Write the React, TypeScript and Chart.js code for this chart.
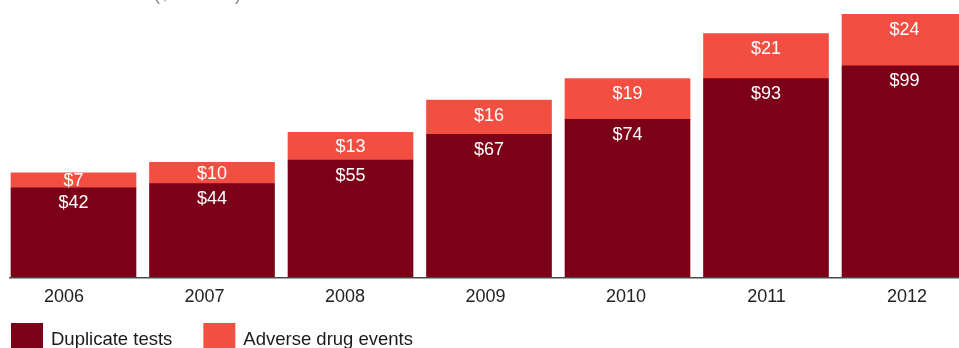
import React, { useEffect, useRef } from "react";
import { Chart, registerables } from "chart.js";

Chart.register(...registerables);

// ---- data ----
const years = ["2006", "2007", "2008", "2009", "2010", "2011", "2012"];
const duplicateTests = [42, 44, 55, 67, 74, 93, 99];
const adverseDrugEvents = [7, 10, 13, 16, 19, 21, 24];
const seriesNames = ["Duplicate tests", "Adverse drug events"];
const seriesValues = [duplicateTests, adverseDrugEvents];
const seriesColors = ["#7d0019", "#f24f42"];
const chartTitle = "Total annual cost ($ millions)";

const FONT = "'Liberation Sans', Arial, Helvetica, sans-serif";

const valueLabels = {
  id: "valueLabels",
  afterDatasetsDraw(chart: any) {
    const ctx = chart.ctx;
    ctx.save();
    ctx.font = `18px ${FONT}`;
    ctx.fillStyle = "#ffffff";
    ctx.textAlign = "center";
    ctx.textBaseline = "middle";
    seriesValues.forEach((vals, di) => {
      const meta = chart.getDatasetMeta(di);
      meta.data.forEach((bar: any, i: number) => {
        const { x, y, base } = bar.getProps(["x", "y", "base"], true);
        const h = Math.abs(base - y);
        const top = Math.min(y, base);
        const off = Math.min(15.5, h / 2 + 0.8);
        ctx.fillText("$" + vals[i], x, top + off);
      });
    });
    ctx.restore();
  },
};

const customLegend = {
  id: "customLegend",
  afterDraw(chart: any) {
    const ctx = chart.ctx;
    ctx.save();
    ctx.font = `18.5px ${FONT}`;
    ctx.textAlign = "left";
    ctx.textBaseline = "alphabetic";
    let x = 11;
    chart.data.datasets.forEach((ds: any) => {
      ctx.fillStyle = ds.backgroundColor;
      ctx.fillRect(x, 323, 32, 30);
      ctx.fillStyle = "#1a1a1a";
      const tx = x + 40;
      ctx.fillText(ds.label, tx, 344.5);
      x = tx + ctx.measureText(ds.label).width + 31;
    });
    ctx.restore();
  },
};

const topTitle = {
  id: "topTitle",
  afterDraw(chart: any) {
    const ctx = chart.ctx;
    ctx.save();
    ctx.font = `18px ${FONT}`;
    ctx.fillStyle = "#888888";
    ctx.textAlign = "left";
    ctx.textBaseline = "alphabetic";
    ctx.fillText(chartTitle, 14, -0.5);
    ctx.restore();
  },
};

export default function App() {
  const canvasRef = useRef<HTMLCanvasElement | null>(null);

  useEffect(() => {
    if (!canvasRef.current) return;
    const chart = new Chart(canvasRef.current, {
      type: "bar",
      data: {
        datasets: seriesValues.map((vals, di) => ({
          label: seriesNames[di],
          data: vals.map((v, i) => ({ x: i, y: v })),
          backgroundColor: seriesColors[di],
          borderWidth: 0,
          barThickness: 125,
          stack: "a",
          xAxisID: "x",
          yAxisID: "y",
        })),
      },
      options: {
        responsive: false,
        animation: false,
        devicePixelRatio: 1,
        layout: { padding: { left: 10, right: 10, top: 10, bottom: 32.4 } },
        plugins: {
          legend: { display: false },
          tooltip: { enabled: false },
          title: { display: false },
        },
        scales: {
          x: {
            type: "linear",
            display: false,
            offset: false,
            min: -0.45848,
            max: 6.61733,
          },
          x2: {
            type: "linear",
            position: "bottom",
            offset: false,
            min: -0.38434,
            max: 6.59075,
            grid: { display: false, drawTicks: false },
            border: { display: true, color: "#4a4a4a", width: 1.5, z: 1 },
            afterFit: (scale: any) => {
              scale.paddingLeft = 0;
              scale.paddingRight = 0;
            },
            ticks: {
              stepSize: 1,
              includeBounds: false,
              autoSkip: false,
              maxRotation: 0,
              padding: 8,
              color: "#222222",
              font: { family: FONT, size: 18 },
              callback: (v: any) => years[v as number] ?? "",
            },
          },
          y: {
            display: false,
            stacked: true,
            min: 0,
            max: 125,
          },
        },
      } as any,
      plugins: [valueLabels, customLegend, topTitle],
    });
    return () => chart.destroy();
  }, []);

  return (
    <div
      style={{
        position: "fixed",
        left: 0,
        top: 0,
        width: 959,
        height: 348,
        overflow: "hidden",
        background: "#ffffff",
      }}
    >
      <canvas
        ref={canvasRef}
        width={1000}
        height={348}
        style={{ display: "block", width: 1000, height: 348 }}
      />
    </div>
  );
}
